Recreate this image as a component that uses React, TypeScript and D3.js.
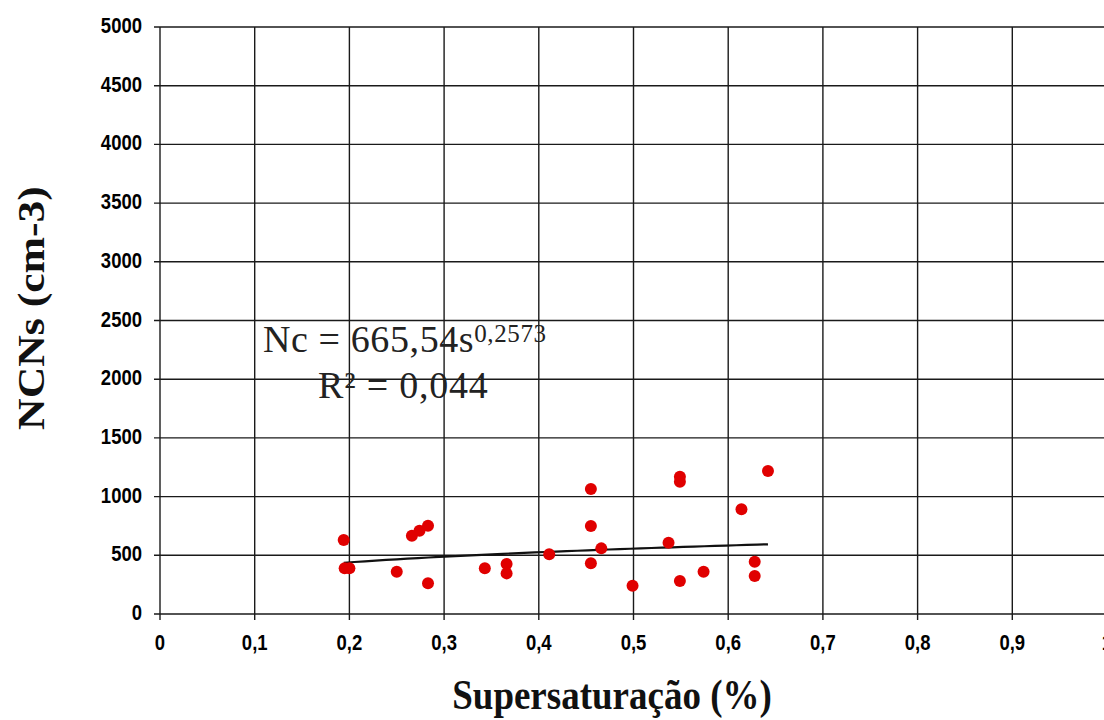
import React, { useEffect, useRef } from 'react';
import * as d3 from 'd3';

// supersaturation (%) and CCN concentration (cm-3)
const supersat = [
  0.194, 0.195, 0.2, 0.25, 0.266, 0.274, 0.283, 0.283,
  0.343, 0.366, 0.366, 0.411, 0.455, 0.455, 0.455, 0.466,
  0.499, 0.537, 0.549, 0.549, 0.549, 0.574, 0.614, 0.628,
  0.628, 0.642,
];
const ncns = [
  630, 389, 389, 360, 667, 710, 752, 261,
  389, 426, 346, 508, 1065, 750, 432, 559,
  241, 607, 1170, 1127, 281, 360, 892, 446,
  324, 1218,
];

// power fit printed on the chart
const fitA = 665.54;
const fitB = 0.2573;
const eqLine1 = 'Nc = 665,54s';
const eqSup = '0,2573';
const eqLine2 = 'R² = 0,044';

const xTicks = [0, 0.1, 0.2, 0.3, 0.4, 0.5, 0.6, 0.7, 0.8, 0.9, 1];
const yTicks = [0, 500, 1000, 1500, 2000, 2500, 3000, 3500, 4000, 4500, 5000];
const xTitle = 'Supersaturação (%)';
const yTitle = 'NCNs (cm-3)';

export default function App() {
  const ref = useRef(null);

  useEffect(() => {
    const w = 1104, h = 720;
    const stretch = 1.15; // the picture is a bit taller than wide
    const svg = d3.select(ref.current).attr('width', w).attr('height', h);
    svg.selectAll('*').remove();

    const x = d3.scaleLinear().domain([0, 1]).range([160, 1107]);
    const y = d3.scaleLinear().domain([0, 5000]).range([614, 27]);

    svg.append('rect').attr('width', w).attr('height', h).attr('fill', '#fff');

    // grid
    const grid = svg.append('g').attr('stroke', '#1a1a1a').attr('stroke-width', 1.4);
    grid.selectAll('.gx').data(xTicks).enter().append('line')
      .attr('x1', d => x(d)).attr('x2', d => x(d))
      .attr('y1', y(5000)).attr('y2', y(0) + 6);
    grid.selectAll('.gy').data(yTicks).enter().append('line')
      .attr('x1', x(0) - 6).attr('x2', x(1))
      .attr('y1', d => y(d)).attr('y2', d => y(d));

    // tick labels
    const lblFont = '"Liberation Sans", Arial, sans-serif';
    svg.selectAll('.yl').data(yTicks).enter().append('g')
      .attr('transform', d => `translate(142,${y(d) + 6}) scale(1,${stretch})`)
      .append('text')
      .attr('text-anchor', 'end')
      .attr('font-family', lblFont).attr('font-weight', 'bold').attr('font-size', 18.5)
      .attr('fill', '#000')
      .text(d => d);
    svg.selectAll('.xl').data(xTicks).enter().append('g')
      .attr('transform', d => `translate(${x(d)},650) scale(1,${stretch})`)
      .append('text')
      .attr('text-anchor', 'middle')
      .attr('font-family', lblFont).attr('font-weight', 'bold').attr('font-size', 18.5)
      .attr('fill', '#000')
      .text(d => String(d).replace('.', ','));

    // axis titles
    const serif = '"Liberation Serif", "Times New Roman", serif';
    svg.append('g')
      .attr('transform', `translate(612,709) scale(1,${stretch})`)
      .append('text')
      .attr('text-anchor', 'middle')
      .attr('font-family', serif).attr('font-weight', 'bold').attr('font-size', 37)
      .attr('fill', '#111')
      .text(xTitle);
    svg.append('g')
      .attr('transform', `translate(44,308) scale(1,${stretch}) rotate(-90)`)
      .append('text')
      .attr('text-anchor', 'middle')
      .attr('font-family', serif).attr('font-weight', 'bold').attr('font-size', 38)
      .attr('fill', '#111')
      .attr('xml:space', 'preserve')
      .text(yTitle);

    // trend line from the fitted equation
    const [s0, s1] = d3.extent(supersat);
    const fitPts = d3.range(0, 41).map(i => s0 + (s1 - s0) * i / 40);
    const line = d3.line().x(d => x(d)).y(d => y(fitA * Math.pow(d, fitB)));
    svg.append('path')
      .datum(fitPts)
      .attr('d', line)
      .attr('fill', 'none')
      .attr('stroke', '#111')
      .attr('stroke-width', 2.2);

    // points
    svg.selectAll('circle')
      .data(supersat)
      .enter().append('circle')
      .attr('cx', d => x(d))
      .attr('cy', (d, i) => y(ncns[i]))
      .attr('r', 6)
      .attr('fill', '#e00000');

    // equation
    const eq = svg.append('text')
      .attr('x', 263).attr('y', 352)
      .attr('font-family', serif).attr('font-size', 38).attr('fill', '#222')
      .attr('letter-spacing', 0.6);
    eq.append('tspan').text(eqLine1);
    eq.append('tspan').attr('font-size', 25).attr('dy', -10).text(eqSup);
    svg.append('text')
      .attr('x', 318).attr('y', 398)
      .attr('font-family', serif).attr('font-size', 38).attr('fill', '#222')
      .attr('letter-spacing', 0.8)
      .text(eqLine2);
  }, []);

  return (
    <svg ref={ref} style={{ position: 'absolute', left: 0, top: 0 }}></svg>
  );
}
